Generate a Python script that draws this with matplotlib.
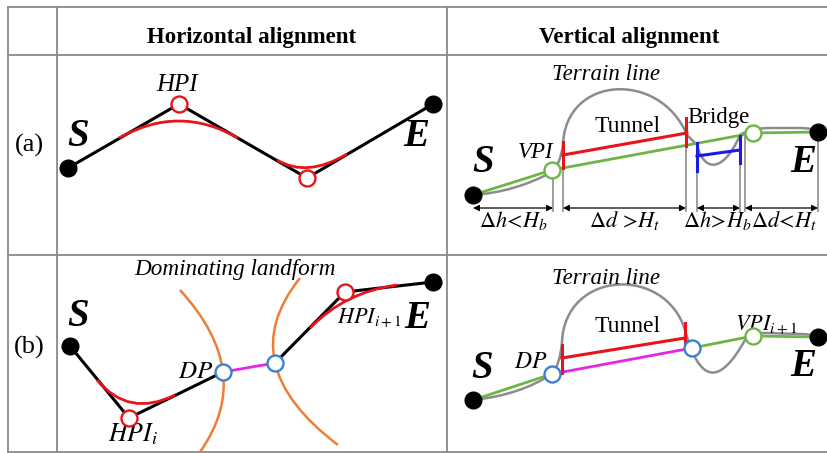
import matplotlib
matplotlib.use("Agg")
import matplotlib.pyplot as plt
from matplotlib.path import Path
from matplotlib.patches import PathPatch

plt.rcParams['font.family'] = ['Liberation Serif', 'DejaVu Serif']
plt.rcParams['mathtext.fontset'] = 'stix'

# Colours
RED = '#e8141c'
GREEN = '#6cb644'
GRAY = '#8c8c8c'
BRIDGE_BLUE = '#1c1ce0'
DP_BLUE = '#3f7fd0'
MAGENTA = '#e526e5'
ORANGE = '#ef7d35'
GRID = '#8a8a8a'

# Table grid (pixel coordinates)
grid_v = [8, 57, 447]
grid_h = [7, 55, 255, 452]

# (a) horizontal alignment
ha_line = [(68, 168), (179, 104), (307, 178), (433, 104)]
ha_hpi = [(179, 104), (307, 178)]
ha_curves = [[(119, 138), (179, 104), (238, 138)],
             [(277, 160), (307, 178), (347, 154)]]

# (a) vertical alignment
va_green = [(473, 195), (552, 170), (753, 133), (818, 132)]
va_vpi = [(552, 170), (753, 133)]
va_terrain = [(473, 195), (515, 192), (552, 172), (560, 165), (563, 145),
              (565, 75), (660, 70), (687, 135), (697, 145),
              (705, 175), (725, 170), (740, 135), (750, 128), (770, 128),
              (800, 128), (812, 128), (818, 132)]
va_terrain_codes = [Path.MOVETO, Path.CURVE3, Path.CURVE3, Path.CURVE3, Path.CURVE3,
                    Path.CURVE4, Path.CURVE4, Path.CURVE4, Path.LINETO,
                    Path.CURVE4, Path.CURVE4, Path.CURVE4, Path.CURVE3, Path.CURVE3,
                    Path.LINETO, Path.CURVE3, Path.CURVE3]
va_tunnel = [(563, 155), (687, 133)]
va_tunnel_ends = [(563, 142, 168), (686, 118, 146)]
va_bridge = [(697, 156), (740, 150)]
va_bridge_ends = [(697, 143, 171), (740, 136, 163)]
dim_y = 208
dim_spans = [(473, 553), (563, 686), (697, 740), (745, 818)]
dim_ext = [(553, 172), (563, 145), (686, 135), (697, 145), (740, 135), (745, 132), (818, 132)]
dim_labels = [r'$\Delta h\!<\!H_b$', r'$\Delta d\ \!>\!H_t$', r'$\Delta h\!>\!H_b$', r'$\Delta d\!<\!H_t$']
dim_label_x = [513, 625, 717, 784]

# (b) horizontal alignment
hb_line1 = [(70, 346), (129, 418), (223, 372)]
hb_link = [(223, 372), (275, 363)]
hb_line2 = [(275, 363), (345, 292), (433, 282)]
hb_hpi = [(129, 418), (345, 292)]
hb_dp = [(223, 372), (275, 363)]
hb_curves = [[(97, 380), (129, 418), (175, 395)],
             [(310, 328), (345, 292), (397, 285)]]
hb_landform = [[(180, 290), (256, 373), (200, 452)],
               [(300, 278), (231, 364), (338, 445)]]

# (b) vertical alignment
vb_green1 = [(473, 400), (552, 374)]
vb_green2 = [(692, 348), (753, 336), (818, 337)]
vb_magenta = [(552, 374), (692, 348)]
vb_dp = [(552, 374), (692, 348)]
vb_vpi = [(753, 336)]
vb_terrain = [(473, 400), (520, 395), (552, 374), (560, 365), (562, 342),
              (565, 270), (665, 265), (685, 330),
              (700, 385), (720, 385), (745, 340), (750, 333), (765, 333),
              (800, 334), (812, 334), (818, 337)]
vb_terrain_codes = [Path.MOVETO, Path.CURVE3, Path.CURVE3, Path.CURVE3, Path.CURVE3,
                    Path.CURVE4, Path.CURVE4, Path.CURVE4,
                    Path.CURVE4, Path.CURVE4, Path.CURVE4, Path.CURVE3, Path.CURVE3,
                    Path.LINETO, Path.CURVE3, Path.CURVE3]
vb_tunnel = [(562, 358), (685, 338)]
vb_tunnel_ends = [(562, 345, 373), (685, 323, 350)]

# End points S/E
end_dots = [(68, 168), (433, 104), (473, 195), (818, 132),
            (70, 346), (433, 282), (473, 400), (818, 337)]
se_labels = [('S', 78, 137), ('E', 416, 137), ('S', 483, 163), ('E', 803, 163),
             ('S', 78, 317), ('E', 417, 318), ('S', 482, 368), ('E', 803, 367)]


def xy(pts):
    return [p[0] for p in pts], [p[1] for p in pts]


def quad(ax, pts, color, lw):
    path = Path(pts, [Path.MOVETO, Path.CURVE3, Path.CURVE3])
    ax.add_patch(PathPatch(path, fc='none', ec=color, lw=lw, zorder=3))


def rings(ax, pts, color):
    x, y = xy(pts)
    ax.plot(x, y, 'o', ms=11.5, mfc='white', mec=color, mew=1.7, zorder=6)


fig = plt.figure(figsize=(8.27, 4.53), dpi=100)
ax = fig.add_axes([0, 0, 1, 1])
ax.set_xlim(0, 827)
ax.set_ylim(453, 0)
ax.axis('off')

# table
for x in grid_v:
    ax.plot([x, x], [7, 453], color=GRID, lw=1.3)
for y in grid_h:
    ax.plot([8, 827], [y, y], color=GRID, lw=1.3)

ax.text(252, 37, 'Horizontal alignment', ha='center', va='center', fontsize=16.5, fontweight='bold')
ax.text(629, 37, 'Vertical alignment', ha='center', va='center', fontsize=16.5, fontweight='bold')
ax.text(29, 145, '(a)', ha='center', va='center', fontsize=19)
ax.text(29, 347, '(b)', ha='center', va='center', fontsize=19)

# (a) horizontal
x, y = xy(ha_line)
ax.plot(x, y, color='black', lw=2.2, zorder=2)
for c in ha_curves:
    quad(ax, c, RED, 2)
rings(ax, ha_hpi, RED)
ax.text(177, 85, 'HPI', ha='center', va='center', fontsize=18, style='italic')

# (a) vertical
ax.add_patch(PathPatch(Path(va_terrain, va_terrain_codes), fc='none', ec=GRAY, lw=1.8, zorder=2))
x, y = xy(va_green)
ax.plot(x, y, color=GREEN, lw=2, zorder=3)
x, y = xy(va_tunnel)
ax.plot(x, y, color=RED, lw=2.2, zorder=4)
for ex, y0, y1 in va_tunnel_ends:
    ax.plot([ex, ex], [y0, y1], color=RED, lw=2.2, zorder=4)
x, y = xy(va_bridge)
ax.plot(x, y, color=BRIDGE_BLUE, lw=2.2, zorder=4)
for ex, y0, y1 in va_bridge_ends:
    ax.plot([ex, ex], [y0, y1], color=BRIDGE_BLUE, lw=2.2, zorder=4)
rings(ax, va_vpi, GREEN)
for ex, ey in dim_ext:
    ax.plot([ex, ex], [ey, dim_y + 3], color=GRAY, lw=1.2, zorder=1)
for (x0, x1), lab, lx in zip(dim_spans, dim_labels, dim_label_x):
    ax.annotate('', xy=(x0, dim_y), xytext=(x1, dim_y),
                arrowprops=dict(arrowstyle='<|-|>', color='black', lw=0.9,
                                shrinkA=0, shrinkB=0, mutation_scale=9))
    ax.text(lx, 221, lab, ha='center', va='center', fontsize=16)
ax.text(606, 75, 'Terrain line', ha='center', va='center', fontsize=16.5, style='italic')
ax.text(628, 126, 'Tunnel', ha='center', va='center', fontsize=17)
ax.text(718, 118, 'Bridge', ha='center', va='center', fontsize=16.5)
ax.text(536, 153, 'VPI', ha='center', va='center', fontsize=16.5, style='italic')

# (b) horizontal
for c in hb_landform:
    quad(ax, c, ORANGE, 1.8)
x, y = xy(hb_line1)
ax.plot(x, y, color='black', lw=2.2, zorder=2)
x, y = xy(hb_line2)
ax.plot(x, y, color='black', lw=2.2, zorder=2)
x, y = xy(hb_link)
ax.plot(x, y, color=MAGENTA, lw=2, zorder=3)
for c in hb_curves:
    quad(ax, c, RED, 2)
rings(ax, hb_hpi, RED)
rings(ax, hb_dp, DP_BLUE)
ax.text(235, 269, 'Dominating landform', ha='center', va='center', fontsize=16.7, style='italic')
ax.text(196, 372, '$DP$', ha='center', va='center', fontsize=18)
ax.text(133, 434, '$HPI_i$', ha='center', va='center', fontsize=18.5)
ax.text(369, 318, '$HPI_{i+1}$', ha='center', va='center', fontsize=16)

# (b) vertical
ax.add_patch(PathPatch(Path(vb_terrain, vb_terrain_codes), fc='none', ec=GRAY, lw=1.8, zorder=2))
x, y = xy(vb_green1)
ax.plot(x, y, color=GREEN, lw=2, zorder=3)
x, y = xy(vb_green2)
ax.plot(x, y, color=GREEN, lw=2, zorder=3)
x, y = xy(vb_magenta)
ax.plot(x, y, color=MAGENTA, lw=2, zorder=3)
x, y = xy(vb_tunnel)
ax.plot(x, y, color=RED, lw=2.2, zorder=4)
for ex, y0, y1 in vb_tunnel_ends:
    ax.plot([ex, ex], [y0, y1], color=RED, lw=2.2, zorder=4)
rings(ax, vb_dp, DP_BLUE)
rings(ax, vb_vpi, GREEN)
ax.text(606, 278, 'Terrain line', ha='center', va='center', fontsize=16.5, style='italic')
ax.text(628, 327, 'Tunnel', ha='center', va='center', fontsize=17)
ax.text(531, 363, '$DP$', ha='center', va='center', fontsize=17)
ax.text(766, 325, '$VPI_{i+1}$', ha='center', va='center', fontsize=16)

# S / E points
x, y = xy(end_dots)
ax.plot(x, y, 'o', ms=12, color='black', zorder=7, ls='none')
for lab, lx, ly in se_labels:
    ax.text(lx, ly, lab, ha='center', va='center', fontsize=28,
            fontweight='bold', style='italic')

fig.savefig('out.png', dpi=100)
